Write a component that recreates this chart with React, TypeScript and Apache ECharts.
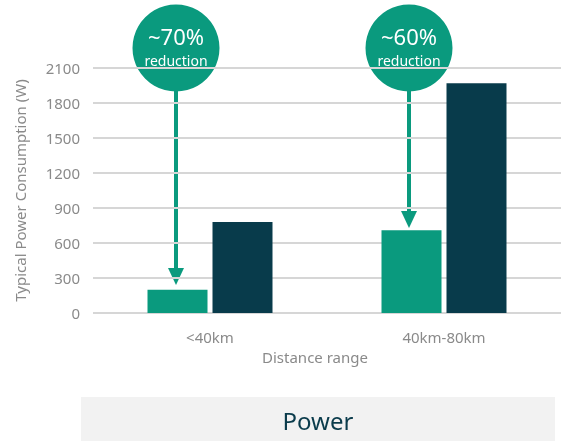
import React, { useEffect, useRef } from "react";
import * as echarts from "echarts";

const categories = ["<40km", "40km-80km"];
const newValues = [200, 710];
const oldValues = [780, 1970];
const yTicks = { min: 0, max: 2100, interval: 300 };
const annotations = ["~70%", "~60%"];

const TEAL = "#0a9a7e";
const DARK = "#083b4b";
const GRAY = "#8a8a8a";
const FONT = "Noto Sans";

export default function App() {
  const ref = useRef<HTMLDivElement>(null);
  useEffect(() => {
    if (!ref.current) return;
    const chart = echarts.init(ref.current, null, { renderer: "svg" });
    const arrow = (cx: number, tipY: number, label: string) => [
      { type: "circle", shape: { cx, cy: 48, r: 43.5 }, style: { fill: TEAL } },
      {
        type: "text",
        x: cx,
        y: 36,
        style: { text: label, fill: "#fff", fontSize: 22, fontFamily: FONT, align: "center", verticalAlign: "middle", lineHeight: 22 },
      },
      {
        type: "text",
        x: cx,
        y: 60,
        style: { text: "reduction", fill: "#fff", fontSize: 14, fontFamily: FONT, align: "center", verticalAlign: "middle", lineHeight: 14 },
      },
      {
        type: "line",
        shape: { x1: cx, y1: 90, x2: cx, y2: tipY - 12 },
        style: { stroke: TEAL, lineWidth: 4 },
      },
      {
        type: "polygon",
        shape: { points: [[cx - 8, tipY - 17], [cx + 8, tipY - 17], [cx, tipY]] },
        style: { fill: TEAL },
      },
    ];
    chart.setOption({
      animation: false,
      grid: { left: 93, right: 0, top: 68, bottom: 128, containLabel: false },
      xAxis: {
        type: "category",
        data: categories,
        axisLine: { show: false },
        axisTick: { show: false },
        axisLabel: { color: GRAY, fontSize: 15, fontFamily: FONT, margin: 16 },
        name: "Distance range",
        nameLocation: "middle",
        nameGap: 36,
        nameTextStyle: { color: GRAY, fontSize: 15, fontFamily: FONT, padding: [0, 24, 0, 0] },
      },
      yAxis: {
        type: "value",
        min: yTicks.min,
        max: yTicks.max,
        interval: yTicks.interval,
        axisLine: { show: false },
        axisTick: { show: false },
        axisLabel: { color: GRAY, fontSize: 15, fontFamily: FONT, margin: 13, formatter: (v: number) => String(v) },
        splitLine: { lineStyle: { color: "#d6d6d6", width: 2 } },
        name: "Typical Power Consumption (W)",
        nameLocation: "middle",
        nameGap: 66,
        nameTextStyle: { color: GRAY, fontSize: 15, fontFamily: FONT },
      },
      series: [
        { name: "New", type: "bar", data: newValues, barWidth: 60, barGap: "8.33%", itemStyle: { color: TEAL } },
        { name: "Conventional", type: "bar", data: oldValues, barWidth: 60, itemStyle: { color: DARK } },
      ],
      graphic: [
        ...arrow(176, 285, annotations[0]),
        ...arrow(409, 228, annotations[1]),
        { type: "rect", shape: { x: 81, y: 397, width: 474, height: 44 }, style: { fill: "#f2f2f2" } },
        {
          type: "text",
          x: 318,
          y: 420,
          style: { text: "Power", fill: "#0b3c4c", fontSize: 24, fontFamily: FONT, align: "center", verticalAlign: "middle" },
        },
      ],
    });
    return () => chart.dispose();
  }, []);
  return <div ref={ref} style={{ position: "fixed", left: 0, top: 0, width: 561, height: 441 }} />;
}
